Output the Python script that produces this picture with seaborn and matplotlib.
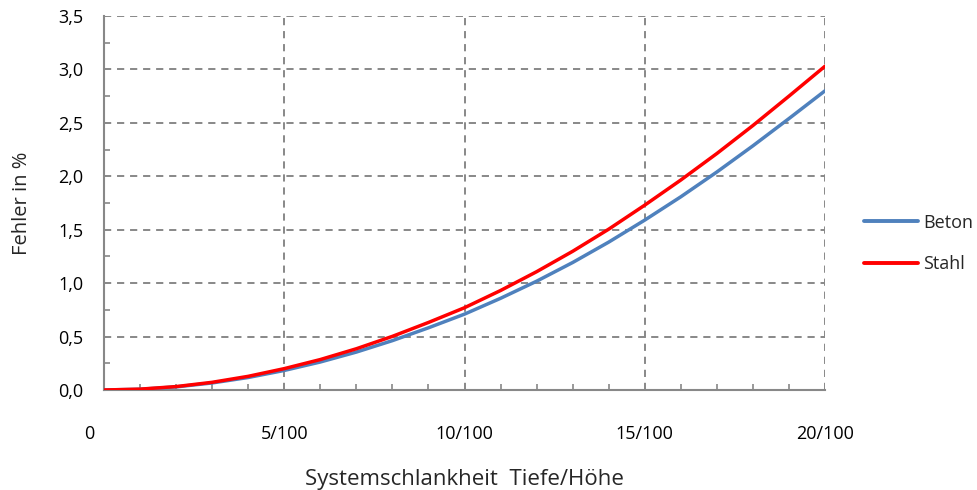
import numpy as np
import pandas as pd
import matplotlib
matplotlib.use("Agg")
import matplotlib.pyplot as plt
import matplotlib.transforms as mtransforms
import seaborn as sns

x_vals = list(range(0, 21))
beton = [0.0, 0.007, 0.029, 0.066, 0.117, 0.183, 0.262, 0.355, 0.462, 0.582, 0.71,
         0.858, 1.018, 1.193, 1.384, 1.59, 1.808, 2.040, 2.285, 2.540, 2.80]
stahl = [0.0, 0.008, 0.032, 0.072, 0.128, 0.20, 0.285, 0.386, 0.502, 0.632, 0.77,
         0.931, 1.107, 1.298, 1.505, 1.73, 1.965, 2.213, 2.475, 2.750, 3.03]
x_ticks = [0, 5, 10, 15, 20]
x_tick_labels = ["0", "5/100", "10/100", "15/100", "20/100"]
y_ticks = [0.0, 0.5, 1.0, 1.5, 2.0, 2.5, 3.0, 3.5]
series_names = ["Beton", "Stahl"]

df = pd.DataFrame({
    "x": x_vals * 2,
    "y": beton + stahl,
    "Serie": [series_names[0]] * len(x_vals) + [series_names[1]] * len(x_vals),
})

sns.set_style("white")
plt.rcParams["font.family"] = ["Open Sans", "DejaVu Sans"]

fig = plt.figure(figsize=(9.77, 4.9), dpi=100)
ax = fig.add_axes([104 / 977, 1 - 390 / 490, (825 - 104) / 977, (390 - 16) / 490])

palette = {"Beton": "#4F81BD", "Stahl": "#FF0000"}
sns.lineplot(data=df, x="x", y="y", hue="Serie", palette=palette, ax=ax,
             linewidth=2.5, legend=True, zorder=3)

ax.set_xlim(0, 20)
ax.set_ylim(0, 3.5)
ax.set_xticks(x_ticks)
ax.set_xticklabels(x_tick_labels)
ax.set_yticks(y_ticks)
ax.set_yticklabels([f"{v:.1f}".replace(".", ",") for v in y_ticks])
ax.set_xticks(np.arange(0, 21, 1), minor=True)
ax.set_yticks(np.arange(0, 3.51, 0.25), minor=True)

gc = "#888888"
ax.grid(True, which="major", color=gc, linestyle=(0, (3.7, 3.0)), linewidth=1.4)
ax.grid(False, which="minor")
for s in ["top", "right"]:
    ax.spines[s].set_visible(False)
for s in ["left", "bottom"]:
    ax.spines[s].set_color(gc)
    ax.spines[s].set_linewidth(1.5)

ax.tick_params(axis="both", which="both", direction="in", color=gc,
               bottom=True, left=True, top=False, right=False,
               labelsize=13, labelcolor="black")
ax.tick_params(axis="both", which="major", length=0)
ax.tick_params(axis="both", which="minor", length=4, width=1.2)
ax.tick_params(axis="x", which="major", pad=25)
ax.tick_params(axis="y", which="major", pad=15)

# shift "0" label to the left like reference
lbl0 = ax.get_xticklabels()[0]
lbl0.set_transform(lbl0.get_transform() + mtransforms.ScaledTranslation(-15 / 100, 0, fig.dpi_scale_trans))

ax.set_xlabel("Systemschlankheit  Tiefe/Höhe", fontsize=16, labelpad=19)
ax.set_ylabel("Fehler in %", fontsize=14.5, labelpad=19)

leg = ax.legend(loc="center left", bbox_to_anchor=(1.032, 0.392), frameon=False,
                fontsize=13, handlelength=3.0, handletextpad=0.25, labelspacing=1.3)
for line in leg.get_lines():
    line.set_linewidth(2.8)

fig.savefig("out.png", dpi=100)
